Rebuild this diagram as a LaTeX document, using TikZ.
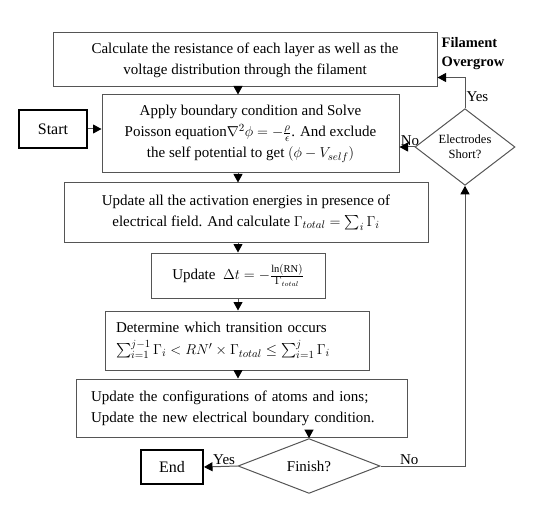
\documentclass[tikz,border=0pt]{standalone}
\usepackage{fontspec}
\setmainfont{Liberation Serif}
\usepackage{amsmath}
\usetikzlibrary{shapes.geometric,arrows.meta,calc}
\definecolor{linegray}{RGB}{85,85,85}
\tikzset{
  procbox/.style={draw=linegray,line width=1pt,inner sep=0pt,align=center,
                  font=\fontsize{15}{21}\selectfont},
  leftbox/.style={draw=linegray,line width=1pt,inner ysep=0pt,align=left,
                  font=\fontsize{15}{21}\selectfont},
  termbox/.style={draw=black,line width=2pt,inner sep=0pt,font=\fontsize{16}{18}\selectfont},
  decision/.style={diamond,draw=linegray,line width=1pt,inner sep=0pt,align=center},
  lbl/.style={font=\fontsize{15}{16}\selectfont,inner sep=1pt}
}

\begin{document}
\begin{tikzpicture}[x=1pt,y=-1pt,>={Triangle[length=8.5pt,width=9pt,color=black]},line width=1pt,draw=linegray]
      \useasboundingbox (0,0) rectangle (540,521);
      % process boxes
      \node[procbox,minimum width=384,minimum height=54] (calc) at (245,60)
        {Calculate the resistance of each layer as well as the\\voltage distribution through the filament};
      \node[procbox,minimum width=297,minimum height=78] (poisson) at (250.5,134)
        {Apply boundary condition and Solve\\Poisson equation$\nabla^2\phi=-\frac{\rho}{\epsilon}$. And exclude\\the self potential to get $(\phi-V_{self})$};
      \node[procbox,minimum width=364,minimum height=59] (activ) at (246,212.5)
        {Update all the activation energies in presence of\\electrical field. And calculate $\Gamma_{total}=\sum_i\Gamma_i$};
      \node[procbox,minimum width=174,minimum height=45] (dt) at (238,275.5)
        {Update\ \ $\Delta t=-\frac{\ln(\mathrm{RN})}{\Gamma_{total}}$};
      \node[leftbox,inner xsep=11pt,text width=242pt,minimum height=59] (trans) at (237,340.5)
        {Determine which transition occurs\\[1pt]$\sum_{i=1}^{j-1}\Gamma_i<RN'\times\Gamma_{total}\le\sum_{i=1}^{j}\Gamma_i$};
      \node[leftbox,inner xsep=15pt,text width=301pt,minimum height=58] (config) at (241.5,408)
        {Update the configurations of atoms and ions;\\Update the new electrical boundary condition.};
      % start / end
      \node[termbox,minimum width=68,minimum height=38] (start) at (53,129) {Start};
      \node[termbox,minimum width=62,minimum height=34] (end) at (172,467) {End};
      % decisions
      \node[decision,minimum width=142,minimum height=38,font=\fontsize{15}{16}\selectfont] (finish) at (309,466) {Finish?};
      \node[decision,minimum width=100,minimum height=59,font=\fontsize{12.5}{15}\selectfont] (short) at (465,147) {Electrodes\\Short?};
      \node[font=\bfseries\fontsize{14.5}{19}\selectfont,align=left,inner sep=0pt] (grow) at (473,54) {Filament\\Overgrow};
      % main column
      \coordinate (colx) at (238,0);
      \draw[->] (start.east) -- (poisson.west |- start.east);
      \draw[->] (calc.south -| colx) -- (poisson.north -| colx);
      \draw[->] (poisson.south -| colx) -- (activ.north -| colx);
      \draw[->] (activ.south -| colx) -- (dt.north -| colx);
      \draw[->] (dt.south -| colx) -- (trans.north -| colx);
      \draw[->] (trans.south -| colx) -- (config.north -| colx);
      \draw[->] (config.south -| finish.north) -- (finish.north);
      % decisions out
      \draw[->] (finish.west) -- (end.east) node[lbl,above,pos=0.4] {Yes};
      \draw[->] (finish.east) -| (short.south) node[lbl,above,pos=0.17] {No};
      \draw[->] (short.west) -- (short.west -| poisson.east) node[lbl,above,pos=0.3] {No};
      \draw[->] (short.north) |- ([yshift=10pt]calc.south east) node[lbl,right,pos=0.19] {Yes};
    \end{tikzpicture}
\end{document}
